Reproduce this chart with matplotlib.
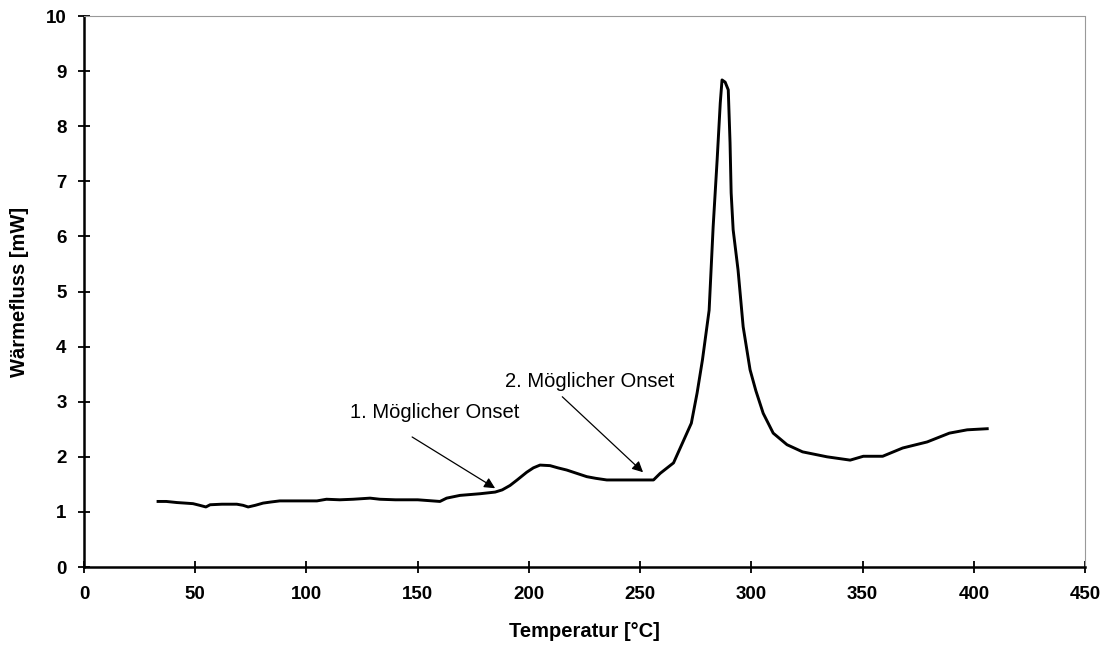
import matplotlib.pyplot as plt

# DSC-Messkurve: Temperatur [°C] gegen Wärmefluss [mW]
temperatur = [33.3, 37.0, 41.8, 45.5, 49.0, 52.0, 54.8, 56.7, 62.0, 68.7, 71.5, 73.8,
              77.0, 80.5, 84.0, 88.0, 96.0, 104.7, 109.0, 115.0, 121.0, 128.6, 133.0,
              140.0, 150.0, 160.0, 163.0, 169.0, 178.0, 184.8, 188.0, 191.5, 194.7,
              199.0, 202.0, 205.0, 209.5, 213.0, 217.0, 221.5, 226.0, 230.0, 235.0,
              245.0, 256.0, 259.0, 265.0, 269.0, 273.0, 275.6, 278.0, 281.0, 282.8,
              284.6, 286.0, 286.8, 288.2, 289.6, 290.4, 290.9, 291.8, 294.0, 296.3,
              299.4, 302.0, 305.3, 309.8, 316.0, 323.0, 334.0, 344.4, 350.3, 359.0,
              368.0, 379.0, 389.0, 397.0, 406.0]
waermefluss = [1.19, 1.19, 1.17, 1.16, 1.15, 1.12, 1.09, 1.13, 1.14, 1.14, 1.12, 1.09,
               1.12, 1.16, 1.18, 1.20, 1.20, 1.20, 1.23, 1.22, 1.23, 1.25, 1.23,
               1.22, 1.22, 1.19, 1.25, 1.30, 1.33, 1.36, 1.40, 1.48, 1.58,
               1.72, 1.80, 1.85, 1.84, 1.80, 1.76, 1.70, 1.64, 1.61, 1.58,
               1.58, 1.58, 1.70, 1.89, 2.25, 2.61, 3.16, 3.76, 4.66, 6.17,
               7.39, 8.42, 8.84, 8.80, 8.66, 7.70, 6.79, 6.12, 5.39, 4.36,
               3.58, 3.20, 2.79, 2.43, 2.22, 2.09, 2.00, 1.94, 2.01, 2.01,
               2.16, 2.27, 2.43, 2.49, 2.51]

# Beschriftungen: Text, Textposition, Pfeilanfang, Pfeilspitze
onset_texte = ["1. Möglicher Onset", "2. Möglicher Onset"]
onset_text_xy = [(157.5, 2.81), (227.5, 3.36)]
onset_pfeil_start = [(147.5, 2.36), (215.0, 3.09)]
onset_pfeil_ziel = [(184.8, 1.43), (251.3, 1.72)]

plt.rcParams['font.family'] = ['Liberation Sans', 'DejaVu Sans']

fig = plt.figure(figsize=(11.05, 6.54), dpi=100)
ax = fig.add_axes([0.076, 0.133, 0.906, 0.8425])

ax.plot(temperatur, waermefluss, color='black', linewidth=2.1, solid_joinstyle='round')

for text, txy, start, ziel in zip(onset_texte, onset_text_xy, onset_pfeil_start, onset_pfeil_ziel):
    ax.text(txy[0], txy[1], text, ha='center', va='center', fontsize=14.5)
    ax.annotate('', xy=ziel, xytext=start,
                arrowprops=dict(arrowstyle='-|>', color='black', lw=0.9,
                                mutation_scale=16, shrinkA=0, shrinkB=0))

ax.set_xlim(0, 450)
ax.set_ylim(0, 10)
ax.set_xticks(range(0, 451, 50))
ax.set_yticks(range(0, 11))

ax.set_xlabel('Temperatur [°C]', fontsize=14.5, fontweight='bold', labelpad=14)
ax.set_ylabel('Wärmefluss [mW]', fontsize=14.5, fontweight='bold', labelpad=12)

for lbl in ax.get_xticklabels() + ax.get_yticklabels():
    lbl.set_fontweight('bold')
ax.tick_params(axis='both', direction='inout', length=9, width=1.3, labelsize=13.5)
ax.tick_params(axis='x', pad=9)
ax.tick_params(axis='y', pad=8)

for side in ['left', 'bottom']:
    ax.spines[side].set_linewidth(1.8)
    ax.spines[side].set_color('black')
for side in ['top', 'right']:
    ax.spines[side].set_linewidth(0.8)
    ax.spines[side].set_color('#999999')
    ax.spines[side].set_linestyle((0, (1, 1)))

fig.savefig('out.png', dpi=100)
